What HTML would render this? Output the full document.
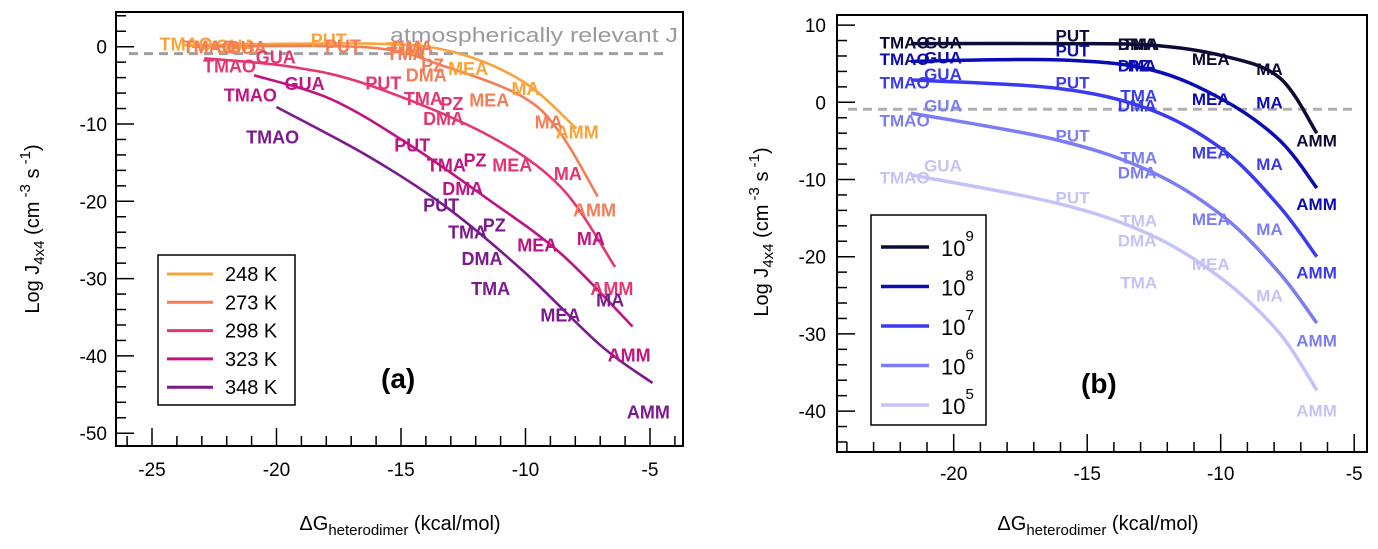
<!DOCTYPE html>
<html><head><meta charset="utf-8"><style>
html,body{margin:0;padding:0;background:#fff}
svg{display:block;font-family:"Liberation Sans",Arial,sans-serif}
</style></head><body>
<svg id="chart" width="1378" height="549" viewBox="0 0 1378 549" xmlns="http://www.w3.org/2000/svg"></svg>
<script>
// ---------- Panel (a) data ----------
const aSeriesNames = ["248 K","273 K","298 K","323 K","348 K"];
const aColors = ["#f9a43a","#f47c56","#e5366f","#bf1482","#7a1a8e"];
const aX248 = [-23.7,-16.3,-13.0,-10.1,-7.95];
const aY248 = [0.2,0.4,-0.6,-4.5,-10.6];
const aX273 = [-23.4,-16.3,-13.2,-10.1,-8.6,-7.1];
const aY273 = [0,-0.1,-2.6,-6.5,-11.2,-19.4];
const aX298 = [-22.9,-19.4,-16.3,-11.65,-8.6,-6.4];
const aY298 = [-1.5,-2.6,-4.95,-11.2,-18.1,-28.5];
const aX323 = [-20.9,-17.8,-14.7,-11.65,-8.6,-5.7];
const aY323 = [-3.7,-6.8,-12.6,-19.4,-26.7,-36.2];
const aX348 = [-20,-16.3,-13.2,-10.1,-7.0,-4.9];
const aY348 = [-7.8,-14.2,-20.7,-29.0,-38.6,-43.5];
const aXTicks = [-25,-20,-15,-10,-5];
const aYTicks = [0,-10,-20,-30,-40,-50];
// ---------- Panel (b) data ----------
const bSeriesNames = ["9","8","7","6","5"];
const bColors = ["#0b0b35","#0b0bb3","#3a3af0","#7c7cf5","#c3c3fa"];
const bX = [-21.6,-16.1,-12.6,-9.9,-7.8,-6.4];
const bY9 = [7.6,7.6,7.4,6.0,3.2,-4.0];
const bY8 = [5.3,5.5,4.2,0.3,-4.9,-11.1];
const bY7 = [2.9,1.8,-1.0,-6.2,-13.5,-20.0];
const bY6 = [-1.4,-4.9,-9.0,-14.8,-22.1,-28.6];
const bY5 = [-9.4,-13.1,-17.2,-23.0,-29.9,-37.3];
const bXTicks = [-20,-15,-10,-5];
const bYTicks = [10,0,-10,-20,-30,-40];
const thresholdJ = -0.9;

const svg = document.getElementById('chart');
const NS = 'http://www.w3.org/2000/svg';
function mk(tag, attrs, parent){const e=document.createElementNS(NS,tag);for(const k in attrs)e.setAttribute(k,attrs[k]);(parent||svg).appendChild(e);return e;}
function spline(pts){let d='M'+pts[0][0]+','+pts[0][1];for(let i=0;i<pts.length-1;i++){const p0=pts[Math.max(0,i-1)],p1=pts[i],p2=pts[i+1],p3=pts[Math.min(pts.length-1,i+2)];const c1x=p1[0]+(p2[0]-p0[0])/6,c1y=p1[1]+(p2[1]-p0[1])/6,c2x=p2[0]-(p3[0]-p1[0])/6,c2y=p2[1]-(p3[1]-p1[1])/6;d+=' C'+c1x+','+c1y+' '+c2x+','+c2y+' '+p2[0]+','+p2[1];}return d;}

const ax = d => 152 + (d+25)*24.9;
const ay = d => 46.7 - d*7.73;
const bx = d => 953.7 + (d+20)*26.7;
const by = d => 102.3 - d*7.72;

function frame(x0,y0,x1,y1,name){
  const r=mk('rect',{x:x0,y:y0,width:x1-x0,height:y1-y0,fill:'none',stroke:'#000','stroke-width':2});
  
  
}
const A={x0:116,y0:12,x1:683,y1:446};
frame(A.x0,A.y0,A.x1,A.y1,'panel-a-frame');
for(let v=-26;v<=-4;v++){const x=ax(v);const major=v%5===0;mk('line',{x1:x,x2:x,y1:A.y1,y2:A.y1-(major?18:10),stroke:'#000','stroke-width':1.5});}
for(let v=4;v>=-50;v-=2){const y=ay(v);const major=v%10===0;mk('line',{x1:A.x0,x2:A.x0+(major?18:10),y1:y,y2:y,stroke:'#000','stroke-width':1.5});}
aXTicks.forEach(v=>{const t=mk('text',{x:ax(v),y:476,'font-size':19,'text-anchor':'middle'});t.textContent=v;

});
aYTicks.forEach(v=>{const t=mk('text',{x:107,y:ay(v)+7,'font-size':19,'text-anchor':'end'});t.textContent=v;

});
const da=mk('line',{x1:129,x2:667,y1:ay(thresholdJ),y2:ay(thresholdJ),stroke:'#a0a0a0','stroke-width':3,'stroke-dasharray':'9 6'});


const at=mk('text',{x:390,y:42,'font-size':20,fill:'#9a9a9a',textLength:288,lengthAdjust:'spacingAndGlyphs'});at.textContent='atmospherically relevant J';


const aXs=[aX248,aX273,aX298,aX323,aX348], aYs=[aY248,aY273,aY298,aY323,aY348];
aXs.forEach((xs,i)=>{const pts=xs.map((x,j)=>[ax(x),ay(aYs[i][j])]);const p=mk('path',{d:spline(pts),fill:'none',stroke:aColors[i],'stroke-width':2.6});

});
const aLabels=[
[0,'TMAO',155,152],[0,'GUA',300,158],[0,'PUT',548,140],[0,'TMA',745,165],[0,'MEA',905,225],[0,'MA',1070,285],[0,'AMM',1185,415],
[1,'TMAO',215,160],[1,'GUA',330,162],[1,'PUT',585,158],[1,'DMA',760,160],[1,'TMA',745,180],[1,'PZ',835,215],[1,'DMA',795,245],[1,'MEA',960,320],[1,'MA',1130,385],[1,'AMM',1230,650],
[2,'TMAO',268,218],[2,'GUA',405,190],[2,'PUT',690,268],[2,'TMA',790,315],[2,'PZ',885,330],[2,'DMA',840,375],[2,'MEA',1020,515],[2,'MA',1180,540],[2,'AMM',1275,885],
[3,'TMAO',322,305],[3,'GUA',480,270],[3,'PUT',765,455],[3,'TMA',850,515],[3,'PZ',945,500],[3,'DMA',890,585],[3,'MEA',1085,755],[3,'MA',1240,735],[3,'AMM',1320,1085],
[4,'TMAO',380,430],[4,'PUT',840,635],[4,'TMA',905,715],[4,'PZ',995,695],[4,'DMA',940,795],[4,'TMA',965,885],[4,'MEA',1145,965],[4,'MA',1290,920],[4,'AMM',1370,1255]];
aLabels.forEach(l=>{const t=mk('text',{x:100+l[2]/2.6,y:l[3]/3,'font-size':18,'font-weight':'bold',fill:aColors[l[0]]});t.textContent=l[1];

});
const lgA=mk('g',{});


mk('rect',{x:158,y:255,width:137,height:150,fill:'#fff',stroke:'#000','stroke-width':1.5},lgA);
aSeriesNames.forEach((n,i)=>{const y=274+i*28.3;mk('line',{x1:167,x2:213,y1:y,y2:y,stroke:aColors[i],'stroke-width':3},lgA);const t=mk('text',{x:225,y:y+7,'font-size':20},lgA);t.textContent=n;

});
const pa=mk('text',{x:381,y:388,'font-size':28,'font-weight':'bold'});pa.textContent='(a)';


const xta=mk('text',{x:400,y:530,'font-size':20,'text-anchor':'middle'});
xta.innerHTML='ΔG<tspan font-size="15" dy="5">heterodimer</tspan><tspan dy="-5"> (kcal/mol)</tspan>';


const yta=mk('text',{x:0,y:0,'font-size':20,'text-anchor':'middle',transform:'translate(39,229) rotate(-90)'});
yta.innerHTML='Log J<tspan font-size="15" dy="5">4x4</tspan><tspan dy="-5"> (cm</tspan><tspan font-size="15" dy="-9"> -3</tspan><tspan dy="9"> s</tspan><tspan font-size="15" dy="-9"> -1</tspan><tspan dy="9">)</tspan>';



const B={x0:837,y0:15,x1:1367,y1:452};
frame(B.x0,B.y0,B.x1,B.y1,'panel-b-frame');
for(let v=-24;v<=-5;v++){const x=bx(v);const major=v%5===0;mk('line',{x1:x,x2:x,y1:B.y1,y2:B.y1-(major?18:10),stroke:'#000','stroke-width':1.5});}
for(let v=10;v>=-44;v-=2){const y=by(v);const major=v%10===0;mk('line',{x1:B.x0,x2:B.x0+(major?18:10),y1:y,y2:y,stroke:'#000','stroke-width':1.5});}
bXTicks.forEach(v=>{const t=mk('text',{x:bx(v),y:480,'font-size':19,'text-anchor':'middle'});t.textContent=v;

});
bYTicks.forEach(v=>{const t=mk('text',{x:826,y:by(v)+7,'font-size':19,'text-anchor':'end'});t.textContent=v;

});
const db=mk('line',{x1:848,x2:1356,y1:by(thresholdJ),y2:by(thresholdJ),stroke:'#b0b0b0','stroke-width':3,'stroke-dasharray':'9 6'});


const bYs=[bY9,bY8,bY7,bY6,bY5];
bYs.forEach((ys,i)=>{const pts=bX.map((x,j)=>[bx(x),by(ys[j])]);const p=mk('path',{d:spline(pts),fill:'none',stroke:bColors[i],'stroke-width':3.5});

});
const bLabels=[
[0,'TMAO',215,145],[0,'GUA',335,145],[0,'PUT',690,125],[0,'DMA',858,150],[0,'TMA',870,150],[0,'MEA',1058,195],[0,'MA',1232,225],[0,'AMM',1340,440],
[1,'TMAO',215,195],[1,'GUA',335,190],[1,'PUT',690,170],[1,'DMA',858,215],[1,'PZ',885,215],[1,'MEA',1058,315],[1,'MA',1232,325],[1,'AMM',1340,630],
[2,'TMAO',215,265],[2,'GUA',335,240],[2,'PUT',690,265],[2,'TMA',865,305],[2,'DMA',858,335],[2,'MEA',1058,475],[2,'MA',1232,510],[2,'AMM',1340,835],
[3,'TMAO',215,380],[3,'GUA',335,335],[3,'PUT',690,425],[3,'TMA',865,490],[3,'DMA',858,535],[3,'MEA',1058,675],[3,'MA',1232,705],[3,'AMM',1340,1040],
[4,'TMAO',215,550],[4,'GUA',335,515],[4,'PUT',690,610],[4,'TMA',865,680],[4,'DMA',858,740],[4,'MEA',1058,810],[4,'TMA',865,865],[4,'MA',1232,905],[4,'AMM',1340,1250]];
bLabels.forEach(l=>{const t=mk('text',{x:800+l[2]/2.7,y:l[3]/3,'font-size':17,'font-weight':'bold',fill:bColors[l[0]]});t.textContent=l[1];

});
const lgB=mk('g',{});


mk('rect',{x:871,y:215,width:115,height:210,fill:'#fff',stroke:'#000','stroke-width':1.5},lgB);
bSeriesNames.forEach((n,i)=>{const y=247+i*39.5;mk('line',{x1:881,x2:929,y1:y,y2:y,stroke:bColors[i],'stroke-width':3.5},lgB);const t=mk('text',{x:941,y:y+9,'font-size':22},lgB);t.innerHTML='10<tspan font-size="15" dy="-15">'+n+'</tspan>';

});
const pb=mk('text',{x:1081,y:393,'font-size':28,'font-weight':'bold'});pb.textContent='(b)';


const xtb=mk('text',{x:1098,y:530,'font-size':20,'text-anchor':'middle'});
xtb.innerHTML='ΔG<tspan font-size="15" dy="5">heterodimer</tspan><tspan dy="-5"> (kcal/mol)</tspan>';


const ytb=mk('text',{x:0,y:0,'font-size':20,'text-anchor':'middle',transform:'translate(768,232) rotate(-90)'});
ytb.innerHTML='Log J<tspan font-size="15" dy="5">4x4</tspan><tspan dy="-5"> (cm</tspan><tspan font-size="15" dy="-9"> -3</tspan><tspan dy="9"> s</tspan><tspan font-size="15" dy="-9"> -1</tspan><tspan dy="9">)</tspan>';


</script>
</body></html>
